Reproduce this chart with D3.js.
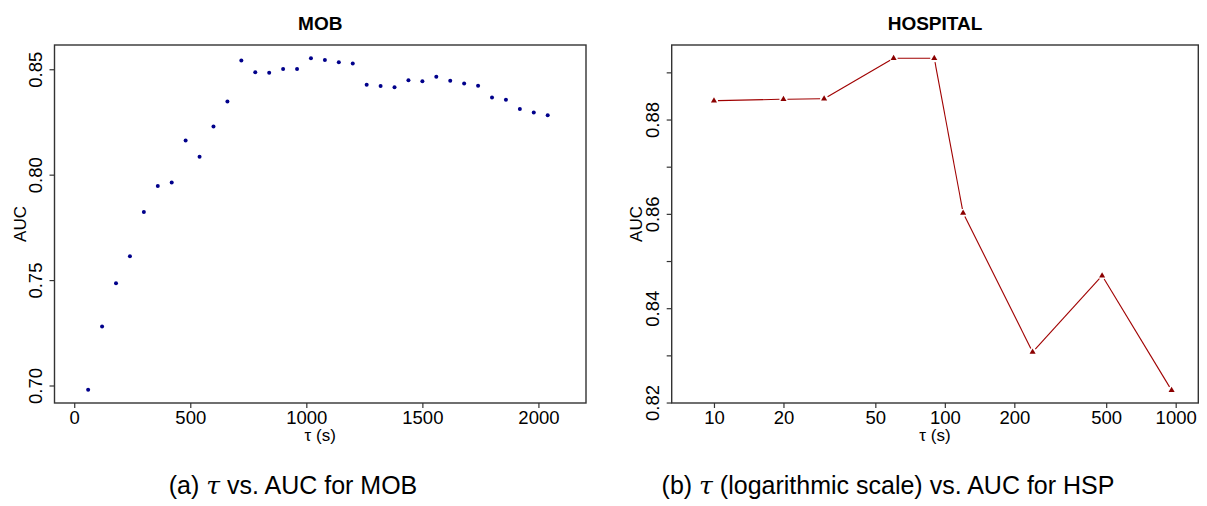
<!DOCTYPE html>
<html>
<head>
<meta charset="utf-8">
<script src="https://cdn.jsdelivr.net/npm/d3@7"></script>
<style>
  html, body { margin: 0; padding: 0; background: #fff; }
  svg { display: block; font-family: "Liberation Sans", Arial, Helvetica, sans-serif; }
</style>
</head>
<body>
<svg id="fig" width="1207" height="506"></svg>
<script>
// MOB: window length tau (seconds) and resulting AUC
const mobTau = [60, 120, 180, 240, 300, 360, 420, 480, 540, 600, 660, 720, 780, 840, 900, 960, 1020,
                1080, 1140, 1200, 1260, 1320, 1380, 1440, 1500, 1560, 1620, 1680, 1740, 1800, 1860,
                1920, 1980, 2040];
const mobAUC = [0.698, 0.728, 0.7485, 0.7613, 0.7823, 0.7946, 0.7963, 0.8162, 0.8085, 0.8228, 0.8347,
                0.8541, 0.8486, 0.8483, 0.8501, 0.8501, 0.8552, 0.8544, 0.8533, 0.8527, 0.8427,
                0.8420, 0.8415, 0.8448, 0.8443, 0.8464, 0.8446, 0.8432, 0.8422, 0.8366, 0.8355,
                0.8312, 0.8295, 0.8282];

// HOSPITAL: tau on a log axis
const hspTau = [10, 20, 30, 60, 90, 120, 240, 480, 960];
const hspAUC = [0.8840, 0.8843, 0.8844, 0.8930, 0.8930, 0.8602, 0.8307, 0.8469, 0.8226];

// Axis ticks
const mobXTicks = [0, 500, 1000, 1500, 2000];
const mobYTicks = [0.70, 0.75, 0.80, 0.85];
const hspXTicks = [10, 20, 50, 100, 200, 500, 1000];
const hspYTicks = [0.82, 0.83, 0.84, 0.85, 0.86, 0.87, 0.88, 0.89];
const hspYLabelled = [0.82, 0.84, 0.86, 0.88];

const svg = d3.select("#fig");
const frameColor = "#333";
const tickFont = 18.5;

function panel(opts) {
  const g = svg.append("g");
  const { x, y, left, right, top, bottom } = opts;

  // plot title
  g.append("text")
    .attr("x", (left + right) / 2).attr("y", 30)
    .attr("text-anchor", "middle")
    .attr("font-weight", "bold").attr("font-size", 19)
    .text(opts.title);

  // x axis
  const xa = g.append("g").attr("transform", `translate(0,${bottom})`)
    .call(d3.axisBottom(x).tickValues(opts.xTicks).tickSize(5).tickPadding(3)
      .tickFormat(d3.format("d")));
  xa.select(".domain").remove();
  xa.selectAll(".tick line").attr("stroke", frameColor).attr("stroke-width", 1.2);
  xa.selectAll(".tick text").attr("font-size", tickFont).attr("fill", "#000")
    .attr("font-family", "Liberation Sans, Arial, sans-serif");

  // y axis (labels rotated, parallel to the axis)
  const ya = g.append("g").attr("transform", `translate(${left},0)`)
    .call(d3.axisLeft(y).tickValues(opts.yTicks).tickSize(5)
      .tickFormat(d => opts.yLabelled.some(v => Math.abs(v - d) < 1e-9) ? d3.format(".2f")(d) : ""));
  ya.select(".domain").remove();
  ya.selectAll(".tick line").attr("stroke", frameColor).attr("stroke-width", 1.2);
  ya.selectAll(".tick text")
    .attr("font-size", tickFont).attr("fill", "#000")
    .attr("font-family", "Liberation Sans, Arial, sans-serif")
    .attr("x", null).attr("dy", null)
    .attr("text-anchor", "middle")
    .attr("transform", `translate(${-opts.yLabelOffset},0) rotate(-90)`)
    .attr("dy", "0.35em");

  // frame
  g.append("rect")
    .attr("x", left).attr("y", top)
    .attr("width", right - left).attr("height", bottom - top)
    .attr("fill", "none").attr("stroke", frameColor).attr("stroke-width", 1.4);

  // axis titles
  g.append("text")
    .attr("x", (left + right) / 2).attr("y", 441)
    .attr("text-anchor", "middle").attr("font-size", 17)
    .text("τ (s)");
  g.append("text")
    .attr("transform", `translate(${left - opts.titleOffset},${(top + bottom) / 2}) rotate(-90)`)
    .attr("text-anchor", "middle").attr("dy", "0.35em").attr("font-size", 17)
    .text("AUC");

  return g;
}

// ---- left panel: MOB (linear tau) ----
const L = { left: 54.5, right: 586, top: 45, bottom: 403 };
const xMob = d3.scaleLinear().domain([-85, 2205]).range([L.left, L.right]);
const yMob = d3.scaleLinear().domain([0.6917, 0.8615]).range([L.bottom, L.top]);
const gMob = panel({ ...L, x: xMob, y: yMob, title: "MOB",
  xTicks: mobXTicks, yTicks: mobYTicks, yLabelled: mobYTicks,
  yLabelOffset: 18.5, titleOffset: 34 });

gMob.append("g").selectAll("circle")
  .data(mobTau.map((t, i) => [t, mobAUC[i]]))
  .join("circle")
  .attr("cx", d => xMob(d[0])).attr("cy", d => yMob(d[1]))
  .attr("r", 2).attr("fill", "#00008B");

// ---- right panel: HOSPITAL (log tau) ----
const R = { left: 671.7, right: 1198.3, top: 45, bottom: 403 };
const xHsp = d3.scaleLog().domain([6.56, 1253]).range([R.left, R.right]);
const yHsp = d3.scaleLinear().domain([0.8199, 0.8958]).range([R.bottom, R.top]);
const gHsp = panel({ ...R, x: xHsp, y: yHsp, title: "HOSPITAL",
  xTicks: hspXTicks, yTicks: hspYTicks, yLabelled: hspYLabelled,
  yLabelOffset: 19.2, titleOffset: 35.7 });

const hspPts = hspTau.map((t, i) => [xHsp(t), yHsp(hspAUC[i])]);
// line segments broken around each marker
const gap = 4;
const segs = d3.pairs(hspPts).map(([a, b]) => {
  const dx = b[0] - a[0], dy = b[1] - a[1];
  const len = Math.hypot(dx, dy);
  const ux = dx / len, uy = dy / len;
  return [a[0] + ux * gap, a[1] + uy * gap, b[0] - ux * gap, b[1] - uy * gap];
});
gHsp.append("g").selectAll("line")
  .data(segs).join("line")
  .attr("x1", d => d[0]).attr("y1", d => d[1])
  .attr("x2", d => d[2]).attr("y2", d => d[3])
  .attr("stroke", "#A00000").attr("stroke-width", 1.1);
gHsp.append("g").selectAll("path")
  .data(hspPts).join("path")
  .attr("d", d3.symbol(d3.symbolTriangle, 16))
  .attr("transform", d => `translate(${d[0]},${d[1]})`)
  .attr("fill", "#8B0000");

// ---- sub-figure captions, centred under each sub-figure ----
function caption(cx, before, after) {
  const t = svg.append("text")
    .attr("x", cx).attr("y", 494)
    .attr("text-anchor", "middle").attr("font-size", 25);
  t.append("tspan").text(before);
  t.append("tspan").attr("font-family", "DejaVu Serif, Liberation Serif, serif")
    .attr("font-style", "italic").text("τ");
  t.append("tspan").text(after);
}
caption(293, "(a) ", " vs. AUC for MOB");
caption(888, "(b) ", " (logarithmic scale) vs. AUC for HSP");
</script>
</body>
</html>
